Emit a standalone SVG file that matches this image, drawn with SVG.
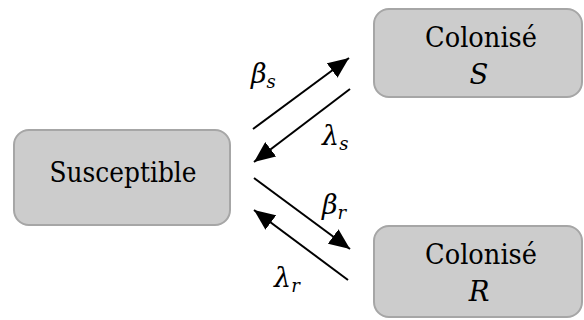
<svg xmlns="http://www.w3.org/2000/svg" width="584" height="320" viewBox="0 0 584 320">
<style>
.box{fill:#cccccc;stroke:#a6a6a6;stroke-width:2}
text{font-family:'DejaVu Serif','Liberation Serif',serif;fill:#000}
.t{font-size:27.5px;text-anchor:middle}
.it{font-style:italic}
.lab{font-style:italic;font-size:27px}
.sub{font-size:18px}
.ln{stroke:#000;stroke-width:2;fill:none;marker-end:url(#ah)}
</style>
<defs>
<marker id="ah" markerUnits="userSpaceOnUse" markerWidth="22" markerHeight="18" refX="21" refY="9" orient="auto">
<path d="M0,0 L21,9 L0,18 Z" fill="#000"/>
</marker>
</defs>
<rect width="584" height="320" fill="#fff"/>
<g id="susceptible">
<rect class="box" x="14" y="130" width="216" height="95" rx="15"/>
<text class="t" x="123" y="182" textLength="147" lengthAdjust="spacingAndGlyphs">Susceptible</text>
</g>
<g id="colonise-s">
<rect class="box" x="374" y="9" width="208" height="88" rx="15"/>
<text class="t" x="481" y="47" textLength="112" lengthAdjust="spacingAndGlyphs">Colonisé</text>
<text class="t it" x="479" y="84">S</text>
</g>
<g id="colonise-r">
<rect class="box" x="374" y="226" width="208" height="91" rx="15"/>
<text class="t" x="481" y="264" textLength="112" lengthAdjust="spacingAndGlyphs">Colonisé</text>
<text class="t it" x="479" y="301">R</text>
</g>
<g id="connectors">
<line class="ln" x1="253" y1="129" x2="349" y2="58"/>
<line class="ln" x1="350" y1="89" x2="254" y2="162"/>
<line class="ln" x1="254" y1="178" x2="350" y2="249"/>
<line class="ln" x1="348" y1="280" x2="254" y2="210"/>
</g>
<g id="labels">
<text class="lab" x="251" y="83">β<tspan class="sub" dy="5">s</tspan></text>
<text class="lab" x="322" y="145">λ<tspan class="sub" dy="5">s</tspan></text>
<text class="lab" x="322" y="214">β<tspan class="sub" dy="5">r</tspan></text>
<text class="lab" x="274" y="287">λ<tspan class="sub" dy="5">r</tspan></text>
</g>
</svg>
